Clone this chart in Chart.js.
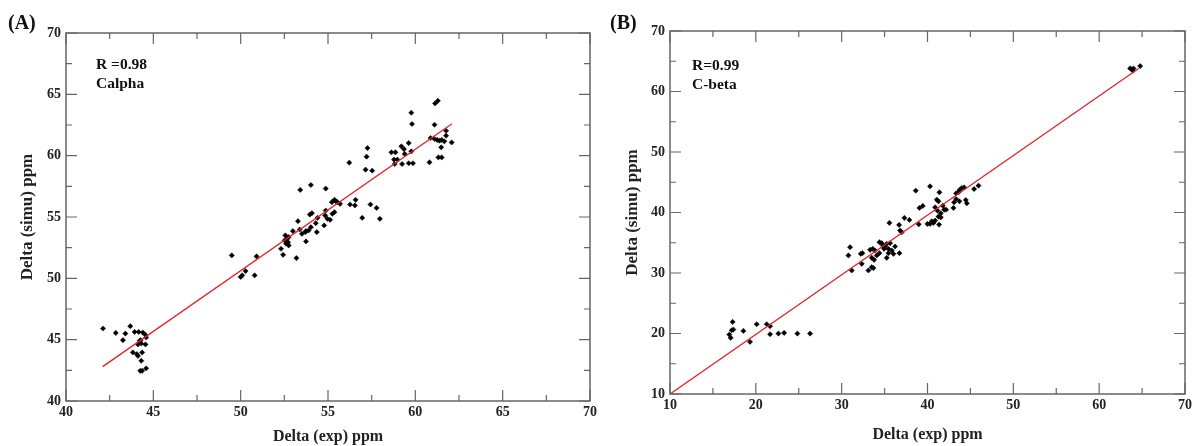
<!DOCTYPE html>
<html>
<head>
<meta charset="utf-8">
<script src="https://cdn.jsdelivr.net/npm/chart.js@4.4.1/dist/chart.umd.min.js"></script>
<style>
    html, body { margin: 0; padding: 0; background: #fff; }
    .panel { position: absolute; top: 0; }
</style>
</head>
<body>
<div class="panel" style="left:0"><canvas id="chartA" width="600" height="446"></canvas></div>
<div class="panel" style="left:600px"><canvas id="chartB" width="597" height="446"></canvas></div>
<script>
// Panel A - Calpha
const calphaExp = [
    42.12, 42.85, 43.26, 43.40, 43.68, 43.93, 44.16, 44.40, 44.53, 44.59, 44.21, 44.31,
    44.55, 44.12, 43.83, 44.06, 44.36, 44.12, 44.31, 44.25, 44.36, 44.59, 44.27,
    49.49, 50.91, 50.28, 50.09, 50.00, 50.80, 52.31, 52.43, 52.56, 52.65, 52.71, 52.75,
    52.60, 52.52, 52.99, 53.19, 53.28, 53.38, 53.51, 53.74, 53.74, 53.89, 54.02, 53.96,
    54.08, 54.36, 54.30, 54.40, 54.78, 54.84, 54.87, 54.97, 55.12, 55.25, 55.37, 55.22,
    55.37, 55.44, 55.54, 55.69, 56.26, 56.54, 56.58, 56.96, 57.43, 57.78, 57.97, 53.41,
    54.02, 54.87, 56.22, 57.15, 57.53, 52.75, 53.70, 57.26, 57.21,
    61.13, 61.29, 59.77, 59.81, 61.10, 61.76, 59.62, 58.63, 58.86, 59.20, 59.35, 59.39,
    58.78, 58.97, 58.82, 59.24, 59.62, 59.86, 60.81, 60.87, 61.10, 61.25, 61.38, 61.51,
    61.66, 61.76, 62.08, 61.48, 61.32, 61.51, 59.77
];
const calphaSimu = [
    45.91, 45.55, 44.96, 45.50, 46.10, 45.63, 45.63, 45.58, 45.42, 45.18, 44.90, 44.69,
    44.61, 44.61, 43.96, 43.82, 43.96, 43.68, 43.28, 42.46, 42.46, 42.66, 44.96,
    51.87, 51.79, 50.59, 50.24, 50.11, 50.24, 52.41, 51.92, 53.50, 53.22, 52.95, 52.68,
    52.82, 53.09, 53.85, 51.65, 54.66, 53.98, 53.63, 53.01, 53.85, 53.90, 54.17, 55.20,
    55.31, 53.77, 54.50, 54.93, 54.31, 55.12, 55.53, 54.85, 54.77, 55.26, 55.39, 56.21,
    56.40, 56.29, 56.21, 56.07, 56.02, 55.94, 56.40, 54.93, 56.02, 55.74, 54.85, 57.21,
    57.61, 57.32, 59.43, 58.86, 58.78, 53.36, 53.77, 60.62, 59.92,
    64.26, 64.47, 63.50, 62.58, 62.52, 62.03, 61.03, 60.27, 60.27, 60.76, 60.54, 60.14,
    59.68, 59.68, 59.32, 59.32, 59.38, 59.38, 59.46, 61.44, 61.36, 61.28, 61.22, 61.28,
    61.17, 61.63, 61.08, 60.68, 59.86, 59.86, 60.35
];
const calphaFitX = [42.1, 62.1];
const calphaFitY = [42.8, 62.6];

// Panel B - C-beta
const cbetaExp = [
    16.91, 17.07, 17.19, 17.38, 17.30, 18.55, 19.32, 20.10, 21.27, 21.66, 21.66, 22.63,
    23.29, 24.84, 26.32,
    30.98, 30.79, 31.17, 32.22, 32.42, 32.34, 33.12, 33.50, 33.70, 33.31, 33.62, 33.89,
    33.50, 33.78, 34.09, 34.40, 34.40, 34.67, 34.79, 34.94, 35.06, 35.25, 35.45, 35.64,
    35.45, 35.25, 35.84, 36.03, 36.22, 36.73, 35.56, 36.81, 36.69, 37.00, 37.31, 37.89,
    38.63, 38.98, 39.06, 39.45, 40.30, 39.99, 40.30, 40.50, 40.69, 40.89, 41.35, 40.89,
    41.08, 41.28, 41.39, 41.16, 41.55, 41.28, 41.55, 41.78, 41.94, 42.17, 43.02, 43.10,
    43.33, 43.33, 43.61, 43.72, 43.99, 44.27, 43.72, 44.46, 44.58, 45.43, 45.94,
    63.61, 63.81, 63.93, 64.00, 64.78
];
const cbetaSimu = [
    19.83, 19.28, 20.54, 20.65, 21.92, 20.43, 18.62, 21.53, 21.53, 21.20, 19.88, 19.99,
    20.10, 19.99, 19.99,
    34.27, 32.90, 30.43, 33.17, 33.28, 31.52, 30.43, 30.97, 30.81, 33.83, 34.00, 33.72,
    32.51, 32.18, 32.90, 33.28, 35.09, 34.93, 34.54, 34.00, 34.38, 34.82, 34.00, 34.93,
    33.28, 32.51, 33.72, 33.17, 34.38, 33.28, 38.28, 37.02, 37.95, 36.74, 39.10, 38.77,
    43.61, 38.05, 40.75, 41.08, 44.32, 38.11, 38.11, 38.55, 38.28, 38.66, 38.00, 40.86,
    42.12, 41.85, 43.33, 40.31, 39.87, 39.32, 39.21, 41.13, 40.47, 40.47, 40.75, 41.68,
    42.23, 43.17, 43.33, 43.71, 44.05, 44.15, 41.85, 42.07, 41.52, 43.88, 44.43,
    63.82, 63.65, 63.43, 63.80, 64.20
];
const cbetaFitX = [10, 64.6];
const cbetaFitY = [10, 63.8];

const serif = "'Liberation Serif', 'Times New Roman', serif";
const axisGray = '#666';

// box around the plot with inward major/minor ticks on all four sides
const boxTicks = {
    id: 'boxTicks',
    afterDraw(chart) {
        const ctx = chart.ctx;
        const { left, right, top, bottom } = chart.chartArea;
        const xs = chart.scales.x, ys = chart.scales.y;
        ctx.save();
        ctx.strokeStyle = axisGray;
        ctx.lineWidth = 1.5;
        ctx.strokeRect(left, top, right - left, bottom - top);
        ctx.lineWidth = 1.2;
        const major = 11, minor = 6;
        const xv = xs.ticks.map(t => t.value);
        const yv = ys.ticks.map(t => t.value);
        ctx.beginPath();
        xv.forEach((v, i) => {
            const p = xs.getPixelForValue(v);
            ctx.moveTo(p, bottom); ctx.lineTo(p, bottom - major);
            ctx.moveTo(p, top); ctx.lineTo(p, top + major);
            if (i < xv.length - 1) {
                const m = xs.getPixelForValue((v + xv[i + 1]) / 2);
                ctx.moveTo(m, bottom); ctx.lineTo(m, bottom - minor);
                ctx.moveTo(m, top); ctx.lineTo(m, top + minor);
            }
        });
        yv.forEach((v, i) => {
            const p = ys.getPixelForValue(v);
            ctx.moveTo(left, p); ctx.lineTo(left + major, p);
            ctx.moveTo(right, p); ctx.lineTo(right - major, p);
            if (i < yv.length - 1) {
                const m = ys.getPixelForValue((v + yv[i + 1]) / 2);
                ctx.moveTo(left, m); ctx.lineTo(left + minor, m);
                ctx.moveTo(right, m); ctx.lineTo(right - minor, m);
            }
        });
        ctx.stroke();

        // panel letter and annotation text
        const o = chart.options.plugins.boxTicks;
        ctx.fillStyle = '#111';
        ctx.textBaseline = 'alphabetic';
        ctx.font = 'bold 20px ' + serif;
        ctx.fillText(o.panel, o.panelX, 29);
        ctx.font = 'bold 15.5px ' + serif;
        o.notes.forEach((txt, i) => {
            ctx.fillText(txt, left + o.noteX, top + o.noteY + i * 19);
        });
        ctx.restore();
    }
};

function makeChart(id, exp, simu, fitX, fitY, lim, step, box) {
    const ctx = document.getElementById(id).getContext('2d');
    return new Chart(ctx, {
        type: 'scatter',
        data: {
            datasets: [{
                type: 'line',
                data: fitX.map((v, i) => ({ x: v, y: fitY[i] })),
                borderColor: '#e3262b',
                borderWidth: 1.4,
                pointRadius: 0,
                fill: false
            }, {
                data: exp.map((v, i) => ({ x: v, y: simu[i] })),
                pointStyle: 'rectRot',
                pointRadius: 2.6,
                backgroundColor: '#000',
                borderColor: '#000',
                borderWidth: 0.5
            }]
        },
        options: {
            responsive: false,
            animation: false,
            layout: { padding: box.padding },
            plugins: {
                legend: { display: false },
                tooltip: { enabled: false },
                boxTicks: box
            },
            scales: {
                x: {
                    type: 'linear',
                    min: lim[0], max: lim[1],
                    grid: { display: false, drawTicks: false },
                    border: { display: false },
                    ticks: { stepSize: step, padding: 3, color: '#222', font: { family: serif, size: 14, weight: 'bold' } },
                    title: { display: true, text: 'Delta (exp) ppm', color: '#222', padding: { top: 0, bottom: box.xTitlePad }, font: { family: serif, size: 16, weight: 'bold' } },
                    afterFit(scale) { scale.height = box.xHeight; }
                },
                y: {
                    type: 'linear',
                    min: lim[0], max: lim[1],
                    grid: { display: false, drawTicks: false },
                    border: { display: false },
                    ticks: { stepSize: step, padding: 5, color: '#222', font: { family: serif, size: 14, weight: 'bold' } },
                    title: { display: true, text: 'Delta (simu) ppm', color: '#222', padding: { top: box.yTitlePad, bottom: 0 }, font: { family: serif, size: 17, weight: 'bold' } },
                    afterFit(scale) { scale.width = box.yWidth; }
                }
            }
        },
        plugins: [boxTicks]
    });
}

const chartA = makeChart('chartA', calphaExp, calphaSimu, calphaFitX, calphaFitY, [40, 70], 5, {
    padding: { top: 33, right: 7, bottom: 0, left: 0 },
    xHeight: 45, yWidth: 66, xTitlePad: 0, yTitlePad: 17,
    panel: '(A)', panelX: 8, notes: ['R =0.98', 'Calpha'], noteX: 30, noteY: 36
});

const chartB = makeChart('chartB', cbetaExp, cbetaSimu, cbetaFitX, cbetaFitY, [10, 70], 10, {
    padding: { top: 31, right: 12, bottom: 0, left: 0 },
    xHeight: 52, yWidth: 70, xTitlePad: 2, yTitlePad: 22,
    panel: '(B)', panelX: 10, notes: ['R=0.99', 'C-beta'], noteX: 22, noteY: 39
});
</script>
</body>
</html>
